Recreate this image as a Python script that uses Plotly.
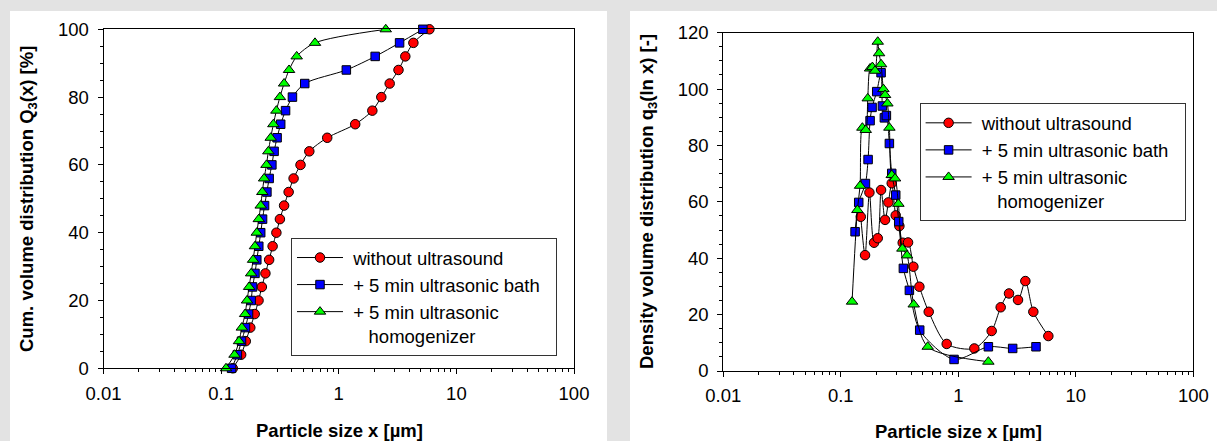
import plotly.graph_objects as go

# ---------------- data ----------------
# Left chart: cumulative volume distribution Q3(x) [%]
q_levels = [0, 4, 8, 12, 16, 20, 24, 28, 32, 36, 40, 44, 48, 52, 56, 60, 64, 68, 72, 76, 80, 84, 88, 92, 96, 100]
cum_x_without = [0.1256, 0.148, 0.162, 0.177, 0.193, 0.208, 0.222, 0.238, 0.256, 0.274, 0.295, 0.316, 0.343,
                 0.375, 0.413, 0.473, 0.562, 0.798, 1.38, 1.93, 2.30, 2.71, 3.22, 3.68, 4.31, 5.90]
cum_x_bath = [0.1227, 0.1374, 0.149, 0.161, 0.171, 0.180, 0.185, 0.194, 0.201, 0.209, 0.217, 0.225, 0.234,
              0.245, 0.256, 0.270, 0.282, 0.299, 0.321, 0.353, 0.404, 0.514, 1.16, 2.04, 3.29, 5.19]
cum_x_homog = [0.110, 0.130, 0.142, 0.150, 0.160, 0.166, 0.173, 0.180, 0.187, 0.194, 0.201, 0.209, 0.217,
               0.224, 0.232, 0.243, 0.252, 0.264, 0.278, 0.295, 0.316, 0.343, 0.378, 0.439, 0.628, 2.51]

# Right chart: density volume distribution q3(ln x) [-]
dens_x_without = [0.148, 0.161, 0.1753, 0.192, 0.2064, 0.2203, 0.2382, 0.2542, 0.2715, 0.2935, 0.3154, 0.3366,
                  0.3737, 0.4148, 0.4666, 0.5602, 0.7968, 1.369, 1.923, 2.294, 2.700, 3.221, 3.718, 4.348, 5.834]
dens_q_without = [54.7, 41.1, 63.3, 45.5, 47.1, 64.2, 53.6, 59.8, 66.6, 55.2, 51.4, 45.5,
                  45.6, 37.0, 29.9, 21.0, 9.6, 8.0, 14.2, 22.6, 27.5, 25.2, 31.9, 21.0, 12.4]
dens_x_bath = [0.1324, 0.1422, 0.1622, 0.1708, 0.1776, 0.1847, 0.2023, 0.2203, 0.2261, 0.2351, 0.2445,
               0.2593, 0.2715, 0.2935, 0.3113, 0.3411, 0.3836, 0.4696, 0.9199, 1.802, 2.901, 4.581]
dens_q_bath = [49.4, 59.8, 66.5, 75.0, 88.8, 93.5, 99.1, 105.8, 94.0, 89.8, 90.6,
               80.7, 70.1, 62.4, 53.0, 36.4, 28.6, 14.5, 4.1, 8.6, 8.0, 8.6]
dens_x_homog = [0.1248, 0.1385, 0.1460, 0.1528, 0.1632, 0.1697, 0.1776, 0.1859, 0.1958, 0.2064, 0.2118,
                0.2203, 0.2306, 0.2382, 0.2493, 0.2593, 0.2715, 0.2897, 0.3093, 0.3344, 0.3665, 0.4176,
                0.5493, 1.802]
dens_q_homog = [24.6, 57.1, 65.7, 86.3, 85.5, 96.7, 107.3, 107.8, 106.5, 116.8, 112.7,
                108.8, 100.0, 97.9, 94.9, 86.3, 69.5, 68.3, 59.3, 43.4, 41.0, 23.6,
                8.6, 3.3]

series_names = ["\u00a0without ultrasound", "\u00a0+ 5 min ultrasonic bath\u00a0\u00a0",
                "\u00a0+ 5 min ultrasonic<br>\u00a0\u00a0\u00a0\u00a0homogenizer"]
x_tick_vals = [0.01, 0.1, 1, 10, 100]
x_tick_text = ["0.01", "0.1", "1", "10", "100"]
left_y_ticks = [0, 20, 40, 60, 80, 100]
right_y_ticks = [0, 20, 40, 60, 80, 100, 120]
x_title = "Particle size x [µm]"
left_y_title = "Cum. volume distribution Q<sub>3</sub>(x) [%]"
right_y_title = "Density volume distribution q<sub>3</sub>(ln x) [-]"

# ---------------- styling ----------------
W, H = 1217, 441
FONT = "Liberation Sans, Arial, sans-serif"
FS = 18.5
BG = "#e3e3e3"
styles = [
    dict(symbol="circle", color="#ff0000", size=9.5),
    dict(symbol="square", color="#0000ff", size=8.5),
    dict(symbol="triangle-up", color="#00ff00", size=10),
]


def px(x):
    return x / W


def py(y):
    return 1 - y / H


fig = go.Figure()

left_series = [cum_x_without, cum_x_bath, cum_x_homog]
for i, xs in enumerate(left_series):
    st = styles[i]
    fig.add_trace(go.Scatter(
        x=xs, y=q_levels, mode="lines+markers", name=series_names[i],
        line=dict(color="black", width=1, shape="spline", smoothing=0.8),
        marker=dict(symbol=st["symbol"], color=st["color"], size=st["size"],
                    line=dict(color="black", width=1)),
        xaxis="x", yaxis="y", legend="legend", cliponaxis=False,
    ))

right_series = [(dens_x_without, dens_q_without), (dens_x_bath, dens_q_bath), (dens_x_homog, dens_q_homog)]
for i, (xs, ys) in enumerate(right_series):
    st = styles[i]
    fig.add_trace(go.Scatter(
        x=xs, y=ys, mode="lines+markers", name=series_names[i],
        line=dict(color="black", width=1, shape="spline", smoothing=0.8),
        marker=dict(symbol=st["symbol"], color=st["color"], size=st["size"],
                    line=dict(color="black", width=1)),
        xaxis="x2", yaxis="y2", legend="legend2", cliponaxis=False,
    ))

xaxis_common = dict(
    type="log", range=[-2, 2], tickmode="array", tickvals=x_tick_vals, ticktext=x_tick_text,
    ticks="outside", ticklen=5, tickwidth=1, tickcolor="black",
    minor=dict(ticks="outside", ticklen=3, tickwidth=1, tickcolor="black", dtick="D1", showgrid=False),
    showline=True, linecolor="black", linewidth=1, mirror=True, showgrid=False, zeroline=False,
    tickfont=dict(family=FONT, size=FS, color="black"), ticklabelstandoff=3, automargin=False,
)
yaxis_common = dict(
    ticks="outside", ticklen=5, tickwidth=1, tickcolor="black",
    minor=dict(ticks="outside", ticklen=3, tickwidth=1, tickcolor="black", dtick=5, showgrid=False),
    showline=True, linecolor="black", linewidth=1, mirror=True, showgrid=False, zeroline=False,
    tickfont=dict(family=FONT, size=FS, color="black"), ticklabelstandoff=5, automargin=False,
)

legend_common = dict(
    xanchor="left", yanchor="top", bgcolor="white",
    bordercolor="#333333", borderwidth=1, font=dict(family=FONT, size=FS, color="black"),
    itemwidth=46, valign="top", tracegroupgap=0, traceorder="normal",
)

fig.update_layout(
    width=W, height=H,
    margin=dict(l=0, r=0, t=0, b=0, autoexpand=False),
    paper_bgcolor=BG, plot_bgcolor="white",
    font=dict(family=FONT, size=FS, color="black"),
    xaxis=dict(domain=[px(103.5), px(574)], anchor="y", **xaxis_common),
    yaxis=dict(domain=[py(368.3), py(29.3)], anchor="x", range=[0, 100], tickmode="array",
               tickvals=left_y_ticks, **yaxis_common),
    xaxis2=dict(domain=[px(723.2), px(1193.4)], anchor="y2", **xaxis_common),
    yaxis2=dict(domain=[py(371), py(32.7)], anchor="x2", range=[0, 120], tickmode="array",
                tickvals=right_y_ticks, **yaxis_common),
    legend=dict(x=px(291), y=py(238), **legend_common),
    legend2=dict(x=px(919.6), y=py(103.3), **legend_common),
    showlegend=True,
    shapes=[
        dict(type="rect", xref="paper", yref="paper", x0=px(10), x1=px(607), y0=0, y1=py(11),
             fillcolor="white", line=dict(width=0), layer="below"),
        dict(type="rect", xref="paper", yref="paper", x0=px(630), x1=1, y0=0, y1=py(11),
             fillcolor="white", line=dict(width=0), layer="below"),
    ],
    annotations=[
        dict(text="<b>" + left_y_title + "</b>", xref="paper", yref="paper", x=px(28), y=py(199),
             xanchor="center", yanchor="middle", textangle=-90, showarrow=False,
             font=dict(family=FONT, size=FS, color="black")),
        dict(text="<b>" + x_title + "</b>", xref="paper", yref="paper", x=px(339), y=py(430),
             xanchor="center", yanchor="middle", showarrow=False,
             font=dict(family=FONT, size=FS, color="black")),
        dict(text="<b>" + right_y_title + "</b>", xref="paper", yref="paper", x=px(648), y=py(202),
             xanchor="center", yanchor="middle", textangle=-90, showarrow=False,
             font=dict(family=FONT, size=FS, color="black")),
        dict(text="<b>" + x_title + "</b>", xref="paper", yref="paper", x=px(958), y=py(431),
             xanchor="center", yanchor="middle", showarrow=False,
             font=dict(family=FONT, size=FS, color="black")),
    ],
)

fig.write_html(
    "out.html",
    config={"displayModeBar": False},
    post_script="document.body.style.margin='0';document.body.style.overflow='hidden';"
                "document.body.style.background='" + BG + "';",
)
